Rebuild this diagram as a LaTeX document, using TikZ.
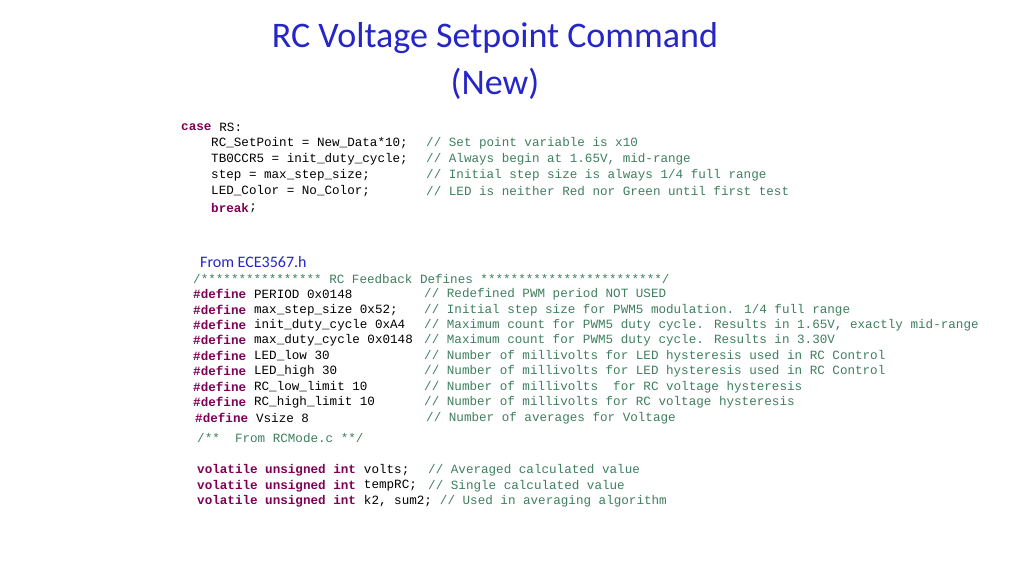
\documentclass[tikz,border=0pt]{standalone}
\usepackage{fontspec}
\setmainfont{Carlito}
\newfontfamily\codefont{Liberation Mono}
\definecolor{ttl}{HTML}{2626C8}
\definecolor{kw}{HTML}{7F0055}
\definecolor{cmt}{HTML}{3F7F5F}
\begin{document}
\begin{tikzpicture}[x=1pt,y=-1pt,
  code/.style={anchor=west,inner sep=0pt,font=\codefont\fontsize{12.6}{14}\selectfont,text=black},
  cmnt/.style={code,text=cmt},
  kwd/.style={code,text=kw,font=\codefont\bfseries\fontsize{12.6}{14}\selectfont},
  ttlstyle/.style={text=ttl,font=\fontsize{36}{40}\selectfont,inner sep=0pt}]
\useasboundingbox[fill=white] (0,0) rectangle (1024,576);
\node[ttlstyle] (t1) at (495,38) {RC Voltage Setpoint Command};
\node[ttlstyle] (t2) at (495,84) {(New)};
% block 1
\node[kwd] (c0) at (181,127) {case};
\node[code] (c0b) at (c0.east) {~RS:};
\node[code] (c1) at (211,143) {RC\_SetPoint = New\_Data*10;};
\node[cmnt] (m1) at (426,143) {// Set point variable is x10};
\node[code] (c2) at (211,159) {TB0CCR5 = init\_duty\_cycle;};
\node[cmnt] (m2) at (426,159) {// Always begin at 1.65V, mid-range};
\node[code] (c3) at (211,175) {step = max\_step\_size;};
\node[cmnt] (m3) at (426,175) {// Initial step size is always 1/4 full range};
\node[code] (c4) at (211,191) {LED\_Color = No\_Color;};
\node[cmnt] (m4) at (426,191) {// LED is neither Red nor Green until first test};
\node[kwd] (c5) at (211,208) {break};
\node[code] (c5b) at (c5.east) {;};
% label
\node[anchor=west,inner sep=0pt,text=ttl,font=\fontsize{16}{18}\selectfont] (from) at (200,262) {From ECE3567.h};
% block 2
\node[cmnt] (hdr) at (193,279) {/**************** RC Feedback Defines ************************/};
\foreach \y/\x/\txt/\c/\cx in {
 294/193/{PERIOD 0x0148}/{Redefined PWM period NOT USED}/424,
 310/193/{max\_step\_size 0x52;}/{Initial step size for PWM5 modulation. 1/4 full range}/424,
 325/193/{init\_duty\_cycle 0xA4}/{Maximum count for PWM5 duty cycle. Results in 1.65V, exactly mid-range}/424,
 340/193/{max\_duty\_cycle 0x0148}/{Maximum count for PWM5 duty cycle. Results in 3.30V}/424,
 356/193/{LED\_low 30}/{Number of millivolts for LED hysteresis used in RC Control}/424,
 371/193/{LED\_high 30}/{Number of millivolts for LED hysteresis used in RC Control}/424,
 387/193/{RC\_low\_limit 10}/{Number of millivolts~ for RC voltage hysteresis}/424,
 402/193/{RC\_high\_limit 10}/{Number of millivolts for RC voltage hysteresis}/424,
 418/195/{Vsize 8}/{Number of averages for Voltage}/426}{
  \node[kwd] (d\y) at (\x,\y) {\#define};
  \node[code] (e\y) at (d\y.east) {~\txt};
  \node[cmnt] (f\y) at (\cx,\y) {// \c};
}
\node[cmnt] (rcm) at (197,438) {/**~~From RCMode.c **/};
\foreach \y/\txt in {470/{volts;}, 486/{tempRC;}, 501/{k2, sum2;}}{
  \node[kwd] (v\y) at (197,\y) {volatile unsigned int};
  \node[code] (w\y) at (v\y.east) {~\txt};
}
\node[cmnt] (x470) at (428,470) {// Averaged calculated value};
\node[cmnt] (x486) at (428,486) {// Single calculated value};
\node[cmnt] (x501) at (w501.east) {~// Used in averaging algorithm};
\end{tikzpicture}
\end{document}
